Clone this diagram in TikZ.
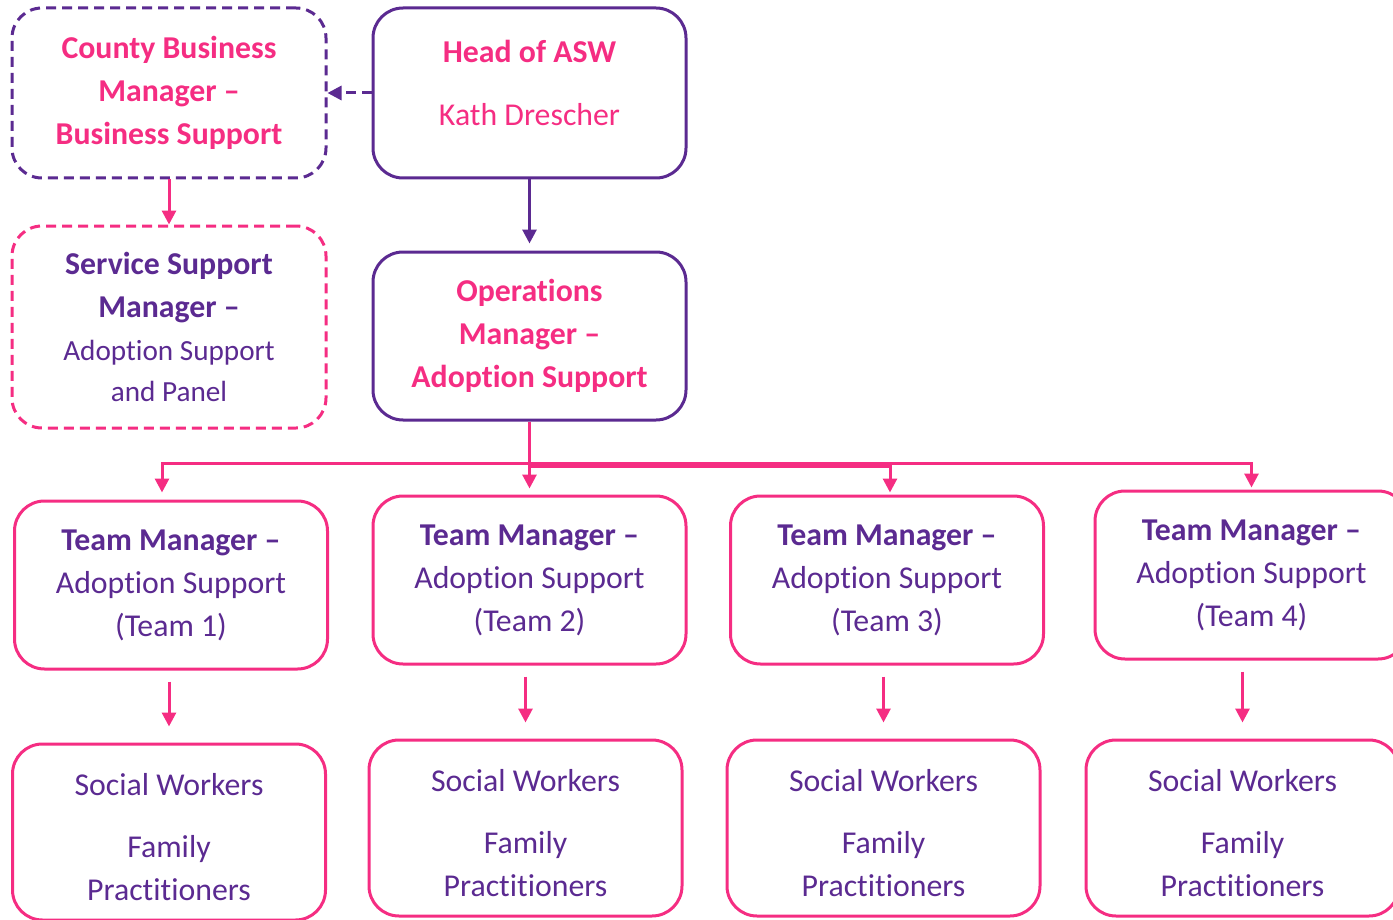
\documentclass[tikz,border=0pt]{standalone}
\usepackage{fontspec}
\setmainfont[Ligatures=NoCommon]{Carlito}
\usetikzlibrary{arrows.meta}
\definecolor{aswpurple}{RGB}{91,42,145}
\definecolor{aswpink}{RGB}{245,45,130}
\begin{document}
\begin{tikzpicture}[x=0.5pt, y=-0.5pt,
    box/.style={draw, line width=1.5pt, rounded corners=15pt, minimum width=156.5pt,
        inner sep=0pt, align=center, font=\fontsize{15.9}{21.5}\selectfont},
    purplebox/.style={box, draw=aswpurple},
    pinkbox/.style={box, draw=aswpink},
    dashedbox/.style={dash pattern=on 5pt off 3pt},
    link/.style={line width=1.5pt, -{Triangle[length=7pt, width=7pt]}}]
    \useasboundingbox (0,0) rectangle (1393,920);
    \node[purplebox, dashedbox, text=aswpink, minimum width=157pt, minimum height=85pt] (cbm) at (169,93)
        {\textbf{County Business}\\\textbf{Manager –}\\\textbf{Business Support}};
    \node[purplebox, text=aswpink, minimum height=85pt, text depth=10.5pt] (head) at (529.5,93)
        {\textbf{Head of ASW}\\[10pt]Kath Drescher};
    \node[pinkbox, dashedbox, text=aswpurple, minimum width=157pt, minimum height=101pt] (ssm) at (169,327)
        {\textbf{Service Support}\\\textbf{Manager –}\\{\fontsize{14.6}{20}\selectfont Adoption Support}\\[-1pt]{\fontsize{14.6}{20}\selectfont and Panel}};
    \node[purplebox, text=aswpink, minimum height=84pt] (ops) at (529.5,336)
        {\textbf{Operations}\\\textbf{Manager –}\\\textbf{Adoption Support}};
    \node[pinkbox, text=aswpurple, minimum height=84pt] (t1) at (171,585)
        {\textbf{Team Manager –}\\Adoption Support\\(Team 1)};
    \node[pinkbox, text=aswpurple, minimum height=84pt] (t2) at (529.5,580)
        {\textbf{Team Manager –}\\Adoption Support\\(Team 2)};
    \node[pinkbox, text=aswpurple, minimum height=84pt] (t3) at (887,580)
        {\textbf{Team Manager –}\\Adoption Support\\(Team 3)};
    \node[pinkbox, text=aswpurple, minimum height=84pt] (t4) at (1251.5,575)
        {\textbf{Team Manager –}\\Adoption Support\\(Team 4)};
    \node[pinkbox, text=aswpurple, minimum height=88pt] (sw1) at (169,832)
        {\rule{0pt}{16pt}Social Workers\\[9.5pt]Family\\Practitioners};
    \node[pinkbox, text=aswpurple, minimum height=88pt] (sw2) at (525.5,828)
        {\rule{0pt}{16pt}Social Workers\\[9.5pt]Family\\Practitioners};
    \node[pinkbox, text=aswpurple, minimum height=88pt] (sw3) at (883.5,828)
        {\rule{0pt}{16pt}Social Workers\\[9.5pt]Family\\Practitioners};
    \node[pinkbox, text=aswpurple, minimum height=88pt] (sw4) at (1242.5,828)
        {\rule{0pt}{16pt}Social Workers\\[9.5pt]Family\\Practitioners};
    \coordinate (bus) at ([yshift=-21pt]ops.south);
    \coordinate (bus3) at ([yshift=-22.5pt]ops.south);
    \draw[link, aswpurple, dashedbox] (head.west) -- (cbm.east |- head.west);
    \draw[link, aswpink] (cbm.south) -- (ssm.north);
    \draw[link, aswpurple, shorten >=3.5pt] (head.south) -- (ops.north);
    \draw[link, aswpink, shorten >=3.5pt] (ops.south) -- (bus) -| ([xshift=-4.5pt]t1.north);
    \draw[link, aswpink, shorten >=1pt] (ops.south) -- (bus3) -| ([xshift=1.5pt]t3.north);
    \draw[link, aswpink, shorten >=1pt] (ops.south) -- (bus) -| (t4.north);
    \draw[link, aswpink, shorten >=3pt] (ops.south) -- (t2.north);
    \foreach \i in {1,...,4}
        \draw[link, aswpink, shorten <=5.5pt, shorten >=8pt] (t\i.south -| sw\i.north) -- (sw\i.north);
\end{tikzpicture}
\end{document}
